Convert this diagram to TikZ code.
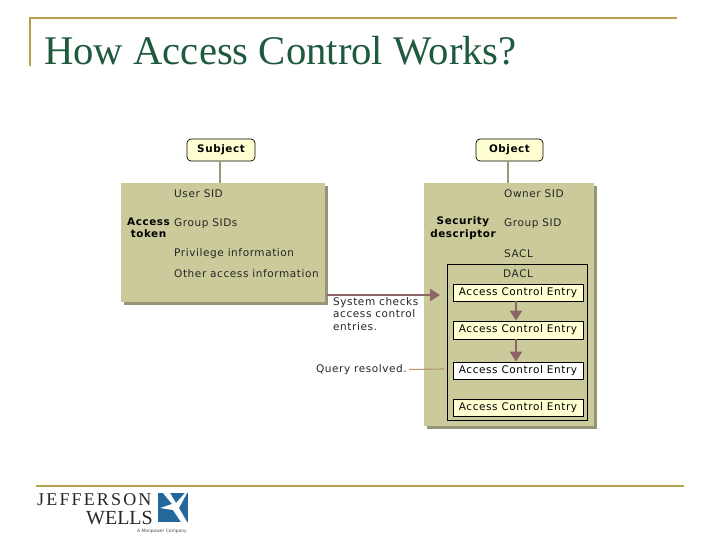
\documentclass[tikz,border=0pt]{standalone}
\usepackage{fontspec}
\setmainfont[LetterSpace=5.5]{DejaVu Sans}
\newfontfamily\titlefont{Liberation Serif}
\newfontfamily\logofont[LetterSpace=12]{Liberation Serif}
\newfontfamily\logofontb{Liberation Serif}
\newfontfamily\tinyfont{DejaVu Sans}
\definecolor{panelc}{HTML}{CBCA9A}
\definecolor{shadowc}{HTML}{96957A}
\definecolor{goldc}{HTML}{B5A24E}
\definecolor{titlec}{HTML}{1F5A3F}
\definecolor{arrowc}{HTML}{8E6468}
\definecolor{queryc}{HTML}{B8946F}
\definecolor{linkc}{HTML}{9A9970}
\definecolor{yellowc}{HTML}{FFFFD2}
\definecolor{logoblue}{HTML}{24679A}
\usetikzlibrary{arrows.meta}
\tikzset{
  x=1pt,y=-1pt,
  panel/.style={fill=panelc,draw=none,anchor=north west,inner sep=0pt},
  shadowbox/.style={fill=shadowc,draw=none},
  pill/.style={draw=black,line width=0.7pt,fill=yellowc,rounded corners=4pt,minimum height=22pt,inner sep=0pt,font=\fontsize{10.4}{12}\selectfont\bfseries},
  ace/.style={draw=black,line width=0.8pt,minimum width=130pt,inner sep=0pt,font=\fontsize{10.5}{12}\selectfont},
  lab/.style={anchor=west,inner sep=0pt,font=\fontsize{10.5}{12}\selectfont,text=black!85},
  boldlab/.style={align=center,inner sep=0pt,font=\fontsize{10.4}{12.5}\selectfont\bfseries},
  flow/.style={draw=arrowc,line width=2.8pt,-{Triangle[length=10pt,width=12pt]}},
  link/.style={draw=linkc,line width=2pt},
  rule/.style={draw=goldc,line width=1.6pt},
}
\begin{document}
\begin{tikzpicture}
\useasboundingbox (0,0) rectangle (720,540);
% title frame
\coordinate (ruleA) at (30,66);
\coordinate (ruleB) at (30,18);
\coordinate (ruleC) at (677,18);
\draw[rule] (ruleA) -- (ruleB) -- (ruleC);
\node[anchor=base west,inner sep=0pt,text=titlec,font=\fontsize{40.7}{44}\selectfont\titlefont] (title) at (44,65) {How Access Control Works?};
% panels
\fill[shadowbox] (124,186) rectangle (328,305);
\fill[shadowbox] (427,186) rectangle (597,429);
\node[panel,minimum width=204pt,minimum height=119pt] (token) at (121,183) {};
\node[panel,minimum width=170pt,minimum height=243pt] (desc) at (424,183) {};
% pills
\node[pill,minimum width=68pt] (subject) at (221,150) {Subject};
\node[pill,minimum width=67pt] (object) at (509.5,150) {Object};
\draw[link] (subject.south -| 220,0) -- (220,0 |- token.north);
\draw[link] (object.south -| 508,0) -- (508,0 |- desc.north);
% token labels
\node[lab] (usid) at (174,193.5) {User SID};
\node[lab] (gsids) at (174,223.5) {Group SIDs};
\node[lab] (priv) at (174,254) {Privilege information};
\node[lab] (other) at (174,273.5) {Other access information};
\node[boldlab] (tokenlab) at (148.5,228) {Access\\token};
% descriptor labels
\node[lab] (osid) at (504,193.5) {Owner SID};
\node[lab] (gsid) at (504,223.5) {Group SID};
\node[lab] (sacl) at (504,254) {SACL};
\node[boldlab] (desclab) at (463,228) {Security\\descriptor};
% DACL
\node[draw=black,line width=0.8pt,anchor=north west,minimum width=140pt,minimum height=156pt,inner sep=0pt] (dacl) at (447,264) {};
\node[lab] (dacllab) at (503,273.5) {DACL};
\node[ace,fill=yellowc,minimum height=17pt] (aceA) at (518,292.5) {Access Control Entry};
\node[ace,fill=yellowc,minimum height=18pt] (aceB) at (518,330) {Access Control Entry};
\node[ace,fill=white,minimum height=17pt] (aceC) at (518,370.5) {Access Control Entry};
\node[ace,fill=yellowc,minimum height=17pt] (aceD) at (518,407.5) {Access Control Entry};
\draw[flow] (516,0 |- aceA.south) -- (516,0 |- aceB.north);
\draw[flow] (516,0 |- aceB.south) -- (516,0 |- aceC.north);
% side notes
\coordinate (startA) at (327,295);
\coordinate (endA) at (440,295);
\draw[flow] (startA) -- (endA);
\node[anchor=north west,inner sep=0pt,align=left,font=\fontsize{10.5}{12.6}\selectfont,text=black!85] (checks) at (333,297) {System checks\\access control\\entries.};
\node[anchor=east,inner sep=0pt,font=\fontsize{10.5}{12}\selectfont,text=black!85] (query) at (407,369.5) {Query resolved.};
\coordinate (queryEnd) at (444,369);
\draw[draw=queryc,line width=1.1pt] (query.east) ++(2,0) -- (queryEnd);
% footer
\coordinate (footA) at (36,486);
\coordinate (footB) at (684,486);
\draw[rule] (footA) -- (footB);
\node[anchor=base west,inner sep=0pt,font=\fontsize{18}{20}\selectfont\logofont,text=black!85] (jeff) at (37,505) {JEFFERSON};
\node[anchor=base east,inner sep=0pt,font=\fontsize{20}{22}\selectfont\logofontb,text=black!85] (wells) at (153,524) {WELLS};
\node[anchor=base east,inner sep=0pt,font=\fontsize{4.4}{5}\selectfont\tinyfont,text=black!70] (mp) at (187,532) {A Manpower Company};
\fill[logoblue] (158,493) rectangle (188,522);
\fill[white] (163,493) -- (170,493) -- (176,503) -- (185,493) -- (187,493) -- (179,508) -- (187,522) -- (181,522) -- (173,510) -- (160,508) -- (172,504) -- cycle;
\end{tikzpicture}
\end{document}
